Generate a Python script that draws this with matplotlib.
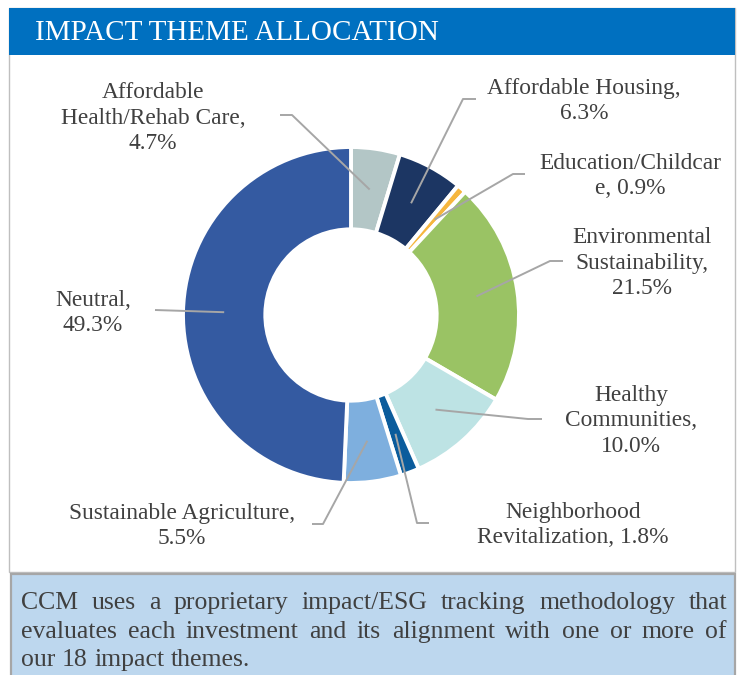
import matplotlib
matplotlib.use("Agg")
import numpy as np
from matplotlib import pyplot as plt
from matplotlib.patches import Rectangle

# data
themes = ["Affordable Health/Rehab Care", "Affordable Housing", "Education/Childcare",
          "Environmental Sustainability", "Healthy Communities",
          "Neighborhood Revitalization", "Sustainable Agriculture", "Neutral"]
shares = [4.7, 6.3, 0.9, 21.5, 10.0, 1.8, 5.5, 49.3]
labels = ["Affordable\nHealth/Rehab Care,\n4.7%",
          "Affordable Housing,\n6.3%",
          "Education/Childcar\ne, 0.9%",
          "Environmental\nSustainability,\n21.5%",
          "Healthy\nCommunities,\n10.0%",
          "Neighborhood\nRevitalization, 1.8%",
          "Sustainable Agriculture,\n5.5%",
          "Neutral,\n49.3%"]
colors = ["#B3C6C6", "#1C3663", "#F6B63E", "#9AC364",
          "#BDE3E4", "#0B5C9C", "#7EAFDE", "#345AA1"]
title = "IMPACT THEME ALLOCATION"
note_lines = ["CCM uses a proprietary impact/ESG tracking methodology that",
              "evaluates each investment and its alignment with one or more of",
              "our 18 impact themes."]

W, H = 741, 675
SERIF = ["Liberation Serif", "DejaVu Serif"]
TXT = "#404040"
LINE = "#A6A6A6"

# label layout: text centre (px) and leader elbow points (px), top-left origin
text_pos = [(153, 118), (584, 101), (630, 176), (642, 263),
            (631, 421), (573, 525), (182, 526), (93, 313)]
elbows = [[(280, 115), (292, 115)],
          [(476, 99), (463, 99)],
          [(525, 174), (513, 174)],
          [(563, 261), (550, 261)],
          [(542, 419), (528, 419)],
          [(429, 523), (417, 523)],
          [(312, 524), (323, 524)],
          [(155, 310)]]

fig = plt.figure(figsize=(W / 100, H / 100), dpi=100)
bg = fig.add_axes([0, 0, 1, 1])
bg.set_xlim(0, W)
bg.set_ylim(H, 0)
bg.axis("off")

# frames
bg.add_patch(Rectangle((9, 8), 726, 564, facecolor="white", edgecolor="#BFBFBF", lw=1))
bg.add_patch(Rectangle((9, 8), 726, 47, facecolor="#0070C0", edgecolor="none"))
bg.add_patch(Rectangle((11, 574), 724, 110, facecolor="#BDD7EE", edgecolor="#A6A6A6", lw=1.6))
bg.text(35, 33, title, color="white", fontsize=21, family=SERIF,
        va="center", ha="left")

# donut
cx, cy, R = 351, 315, 168
ax = fig.add_axes([(cx - R) / W, (H - cy - R) / H, 2 * R / W, 2 * R / H])
wedges, _ = ax.pie(shares, colors=colors, startangle=90, counterclock=False, radius=1,
                   wedgeprops=dict(width=0.49, edgecolor="white", linewidth=2.8))
ax.set_xlim(-1, 1)
ax.set_ylim(-1, 1)
ax.set_aspect("equal")
ax.axis("off")

# overlay for leader lines and labels
top = fig.add_axes([0, 0, 1, 1])
top.set_xlim(0, W)
top.set_ylim(H, 0)
top.axis("off")
top.patch.set_alpha(0)

to_top = ax.transData + top.transData.inverted()
for w, lab, tp, el in zip(wedges, labels, text_pos, elbows):
    mid = np.deg2rad((w.theta1 + w.theta2) / 2)
    anchor = to_top.transform((0.755 * np.cos(mid), 0.755 * np.sin(mid)))
    pts = el + [tuple(anchor)]
    xs, ys = zip(*pts)
    top.plot(xs, ys, color=LINE, lw=1.4, solid_capstyle="butt")
    top.text(tp[0], tp[1], lab, ha="center", va="center", fontsize=16.8,
             family=SERIF, color=TXT, linespacing=1.3)

# justified note text
fig.canvas.draw()
rend = fig.canvas.get_renderer()
x0, x1 = 21, 727
line_y = [603, 632, 660]
fs = 18.5


def width_of(s):
    t = top.text(0, 0, s, fontsize=fs, family=SERIF)
    bb = t.get_window_extent(rend)
    t.remove()
    return bb.width


space = width_of("a b") - width_of("ab")
while max(width_of(ln) for ln in note_lines) > (x1 - x0):
    fs -= 0.25
    space = width_of("a b") - width_of("ab")

for i, ln in enumerate(note_lines):
    words = ln.split()
    ws = [width_of(x) for x in words]
    last = i == len(note_lines) - 1
    gap = space if last else (x1 - x0 - sum(ws)) / (len(words) - 1)
    x = x0
    for wd, wdt in zip(words, ws):
        top.text(x, line_y[i], wd, fontsize=fs, family=SERIF, color=TXT,
                 va="center", ha="left")
        x += wdt + gap

fig.savefig("out.png", dpi=100)
